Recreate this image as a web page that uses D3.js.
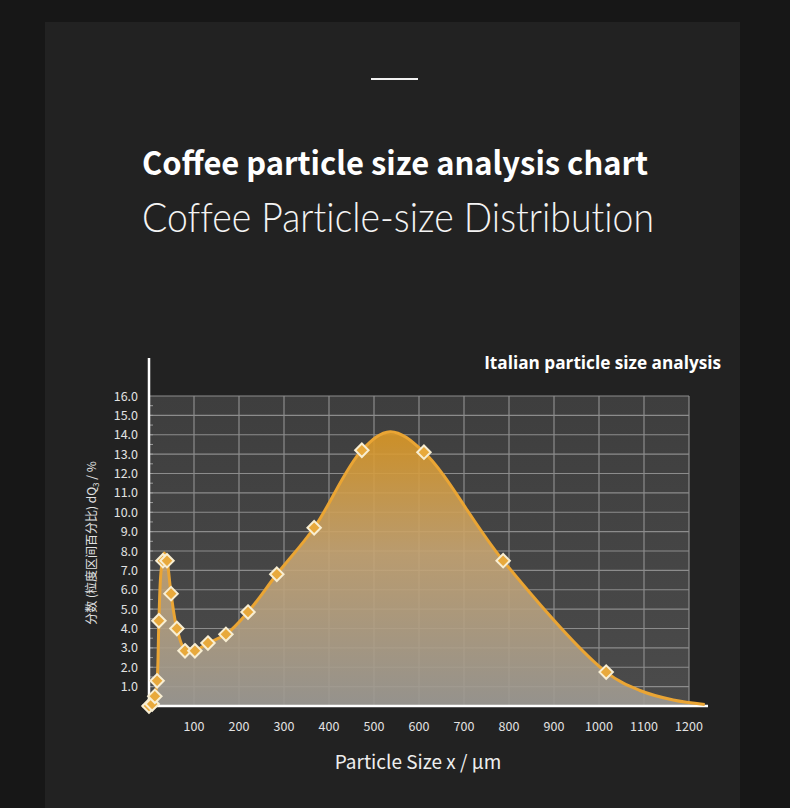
<!DOCTYPE html>
<html>
<head>
<meta charset="utf-8">
<script src="https://cdn.jsdelivr.net/npm/d3@7/dist/d3.min.js"></script>
<style>
  html, body { margin: 0; padding: 0; background: #171717; }
  svg { display: block; }
</style>
</head>
<body>
<svg id="chart"></svg>
<script>
// measured points (diamond markers)
const sizeUm = [0, 7, 13, 18, 22, 31, 40, 49, 62, 80, 102, 131, 171, 220, 284, 367, 473, 611, 787, 1016];
const dQ3 = [0, 0.1, 0.5, 1.3, 4.4, 7.5, 7.5, 5.8, 4.0, 2.85, 2.85, 3.25, 3.7, 4.85, 6.8, 9.2, 13.2, 13.1, 7.5, 1.75];

// the smooth distribution line
const curveX = [0, 7, 13, 18, 22, 27, 34, 40, 49, 62, 80, 102, 131, 171, 220, 284, 367, 473, 536, 611, 787, 1016, 1091, 1165, 1235];
const curveY = [0, 0.1, 0.5, 1.3, 4.4, 7.0, 7.9, 7.5, 5.8, 4.0, 2.9, 2.85, 3.25, 3.7, 4.85, 6.8, 9.2, 13.2, 14.16, 13.1, 7.5, 1.75, 0.8, 0.31, 0.08];

const xTicks = [100, 200, 300, 400, 500, 600, 700, 800, 900, 1000, 1100, 1200];
const yTicks = [1, 2, 3, 4, 5, 6, 7, 8, 9, 10, 11, 12, 13, 14, 15, 16];

const mainTitle = "Coffee particle size analysis chart";
const subTitle = "Coffee Particle-size Distribution";
const chartTitle = "Italian particle size analysis";
const xTitle = "Particle Size x / µm";

const width = 790, height = 808;
const svg = d3.select("#chart").attr("width", width).attr("height", height);

const x = d3.scaleLinear().domain([0, 1200]).range([149, 689]);
const y = d3.scaleLinear().domain([0, 16]).range([706, 396]);

const defs = svg.append("defs");

const bgGrad = defs.append("linearGradient").attr("id", "plotBg")
    .attr("x1", 0).attr("y1", 0).attr("x2", 0).attr("y2", 1);
bgGrad.append("stop").attr("offset", "0%").attr("stop-color", "#3e3e3e");
bgGrad.append("stop").attr("offset", "100%").attr("stop-color", "#4b4b4b");

const areaGrad = defs.append("linearGradient").attr("id", "areaFill")
    .attr("gradientUnits", "userSpaceOnUse")
    .attr("x1", 0).attr("y1", y(14.2)).attr("x2", 0).attr("y2", y(0));
areaGrad.append("stop").attr("offset", "0%").attr("stop-color", "#dc9824");
areaGrad.append("stop").attr("offset", "45%").attr("stop-color", "#c6a574");
areaGrad.append("stop").attr("offset", "100%").attr("stop-color", "#9d9a94");

// page panel
svg.append("rect").attr("x", 45).attr("y", 22).attr("width", 695).attr("height", height - 22)
    .attr("fill", "#222222");

// small bar above the title
svg.append("line").attr("x1", 371).attr("x2", 418).attr("y1", 79).attr("y2", 79)
    .attr("stroke", "#f2f2f2").attr("stroke-width", 2);

svg.append("text")
    .attr("x", 142).attr("y", 175)
    .attr("textLength", 506).attr("lengthAdjust", "spacingAndGlyphs")
    .style("font-family", "'Noto Sans CJK SC', 'Open Sans', sans-serif")
    .style("font-weight", 700).style("font-size", "32px")
    .attr("fill", "#ffffff")
    .text(mainTitle);

svg.append("text")
    .attr("x", 142).attr("y", 232)
    .attr("textLength", 512).attr("lengthAdjust", "spacingAndGlyphs")
    .style("font-family", "'Lato', 'Noto Sans', sans-serif")
    .style("font-weight", 300).style("font-size", "41px")
    .style("font-variant-ligatures", "none")
    .attr("fill", "#f4f4f4")
    .text(subTitle);

// plot background
svg.append("rect")
    .attr("x", x(0)).attr("y", y(16))
    .attr("width", x(1200) - x(0)).attr("height", y(0) - y(16))
    .attr("fill", "url(#plotBg)");

// grid
const grid = svg.append("g").attr("stroke", "#8c8c8c").attr("stroke-width", 1.2);
grid.selectAll(".vg").data(xTicks).enter().append("line")
    .attr("x1", d => x(d)).attr("x2", d => x(d))
    .attr("y1", y(16)).attr("y2", y(0));
grid.selectAll(".hg").data(yTicks).enter().append("line")
    .attr("x1", x(0)).attr("x2", x(1200))
    .attr("y1", d => y(d)).attr("y2", d => y(d));

// minor ticks on the y axis
const minor = d3.range(1, 32).map(i => i / 2);
svg.append("g").selectAll("line").data(minor).enter().append("line")
    .attr("x1", x(0)).attr("x2", x(0) + 4)
    .attr("y1", d => y(d)).attr("y2", d => y(d))
    .attr("stroke", "#9a9a9a").attr("stroke-width", 1);

// area + line
const pts = curveX.map((v, i) => ({x: v, y: curveY[i]}));
const smooth = d3.curveCatmullRom.alpha(0.5);
const area = d3.area().x(d => x(d.x)).y0(y(0)).y1(d => y(d.y)).curve(smooth);
const line = d3.line().x(d => x(d.x)).y(d => y(d.y)).curve(smooth);

svg.append("path").datum(pts).attr("d", area)
    .attr("fill", "url(#areaFill)").attr("opacity", 0.9);

// axes lines
svg.append("line").attr("x1", x(0)).attr("x2", x(0)).attr("y1", 358).attr("y2", y(0) + 2)
    .attr("stroke", "#ffffff").attr("stroke-width", 2.5);
svg.append("line").attr("x1", 142).attr("x2", 708).attr("y1", y(0)).attr("y2", y(0))
    .attr("stroke", "#ffffff").attr("stroke-width", 2.5);

svg.append("path").datum(pts).attr("d", line)
    .attr("fill", "none").attr("stroke", "#eaa534").attr("stroke-width", 3)
    .attr("stroke-linejoin", "round");

// diamond markers
svg.append("g").selectAll("path").data(sizeUm).enter().append("path")
    .attr("d", d3.symbol().type(d3.symbolDiamond2).size(115))
    .attr("transform", (d, i) => `translate(${x(d)},${y(dQ3[i])})`)
    .attr("fill", "#e8a93c")
    .attr("stroke", "#f8eed2")
    .attr("stroke-width", 2);

// tick labels
const tickFont = "'Noto Sans CJK SC', 'Noto Sans', sans-serif";
svg.append("g").selectAll("text").data(yTicks).enter().append("text")
    .attr("x", 138).attr("y", d => y(d) + 4.5)
    .attr("text-anchor", "end")
    .style("font-family", tickFont).style("font-size", "12.5px")
    .attr("fill", "#e2e2e2")
    .text(d => d.toFixed(1));

svg.append("g").selectAll("text").data(xTicks).enter().append("text")
    .attr("x", d => x(d)).attr("y", 731)
    .attr("text-anchor", "middle")
    .style("font-family", tickFont).style("font-size", "12.5px")
    .attr("fill", "#e2e2e2")
    .text(d => d);

// axis titles
svg.append("text")
    .attr("x", 418).attr("y", 769)
    .attr("text-anchor", "middle")
    .style("font-family", tickFont).style("font-size", "19px")
    .attr("fill", "#eeeeee")
    .text(xTitle);

const yt = svg.append("text")
    .attr("transform", "translate(96,543) rotate(-90)")
    .attr("text-anchor", "middle")
    .style("font-family", tickFont).style("font-size", "12px")
    .attr("fill", "#e2e2e2");
yt.append("tspan").text("分数 (粒度区间百分比) dQ");
yt.append("tspan").attr("dy", 3).style("font-size", "8px").text("3");
yt.append("tspan").attr("dy", -3).text(" / %");

svg.append("text")
    .attr("x", 721).attr("y", 369)
    .attr("text-anchor", "end")
    .style("font-family", "'Open Sans', 'Noto Sans', sans-serif")
    .style("font-weight", 700).style("font-size", "17.2px")
    .attr("fill", "#ffffff")
    .text(chartTitle);
</script>
</body>
</html>
